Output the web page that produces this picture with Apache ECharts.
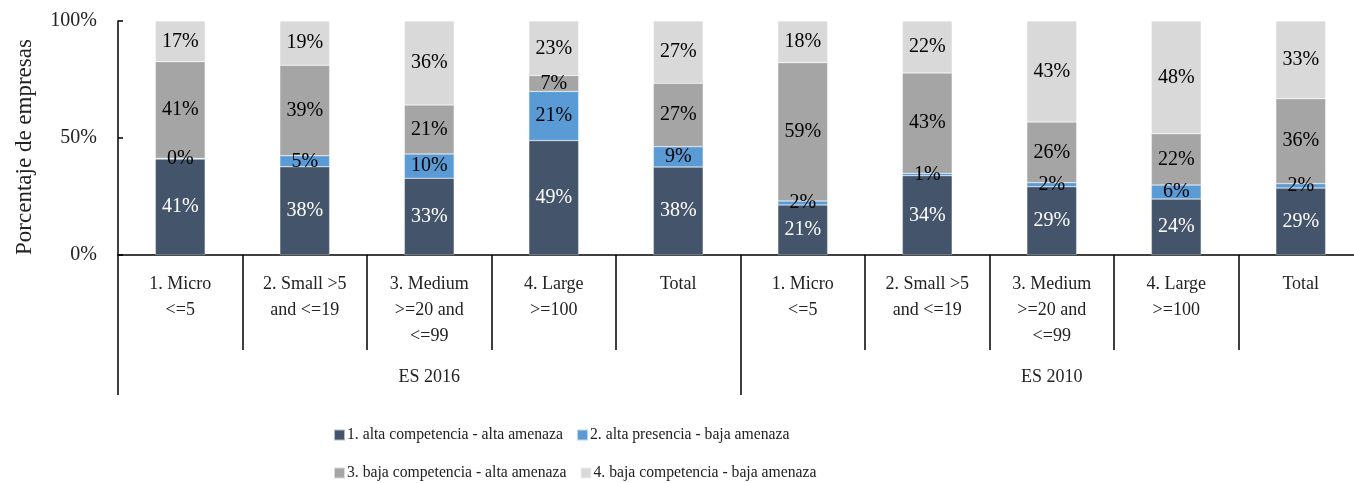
<!DOCTYPE html>
<html>
<head>
  <meta charset="UTF-8">
  <title>Porcentaje de empresas</title>
  <style>
    html, body { margin: 0; padding: 0; background: #fff; }
    #chart { width: 1354px; height: 483px; }
  </style>
  <script type="text/javascript" src="https://cdn.jsdelivr.net/npm/echarts@6/dist/echarts.min.js"></script>
</head>
<body>
  <div id="chart"></div>
  <script>
    var categories = [
      '1. Micro\n<=5', '2. Small >5\nand <=19', '3. Medium\n>=20 and\n<=99', '4. Large\n>=100', 'Total',
      '1. Micro\n<=5', '2. Small >5\nand <=19', '3. Medium\n>=20 and\n<=99', '4. Large\n>=100', 'Total'
    ];
    var groups = ['ES 2016', 'ES 2010'];
    var yTicks = [0, 50, 100];

    // valores estimados (%), la etiqueta se redondea
    var altaCompAltaAmen = [41.0, 37.7, 32.8, 48.9, 37.6, 21.4, 33.9, 29.2, 23.9, 28.6];
    var altaPresBajaAmen = [0.3, 4.7, 10.4, 21.0, 8.7, 1.7, 1.0, 1.7, 6.0, 1.9];
    var bajaCompAltaAmen = [41.3, 38.7, 20.9, 6.8, 27.1, 59.1, 42.9, 25.9, 21.9, 36.3];
    var bajaCompBajaAmen = [17.4, 18.9, 35.9, 23.3, 26.6, 17.8, 22.2, 43.2, 48.2, 33.2];

    var seriesNames = [
      '1. alta competencia - alta amenaza',
      '2. alta presencia - baja amenaza',
      '3. baja competencia - alta amenaza',
      '4. baja competencia - baja amenaza'
    ];
    var colors = ['#44546A', '#5B9BD5', '#A5A5A5', '#D9D9D9'];
    var labelColors = ['#fff', '#000', '#000', '#000'];
    var seriesData = [altaCompAltaAmen, altaPresBajaAmen, bajaCompAltaAmen, bajaCompBajaAmen];

    var font = 'Liberation Serif';
    var myChart = echarts.init(document.getElementById('chart'));

    var series = [];
    for (var i = 0; i < seriesData.length; i++) {
      series.push({
        name: seriesNames[i],
        type: 'bar',
        stack: 'total',
        xAxisIndex: 0,
        barWidth: '40%',
        data: seriesData[i],
        itemStyle: { color: colors[i], borderColor: 'rgba(255,255,255,0.6)', borderWidth: 0.5 },
        label: {
          show: true,
          position: 'inside',
          fontFamily: font,
          fontSize: 20,
          color: labelColors[i],
          formatter: function (p) { return Math.round(p.value) + '%'; }
        }
      });
    }

    var option = {
      backgroundColor: '#fff',
      animation: false,
      textStyle: { fontFamily: font },
      grid: { left: 118, top: 21, width: 1245, height: 234, containLabel: false, outerBoundsMode: 'none' },
      legend: [
        {
          data: seriesNames.slice(0, 2),
          left: 328, top: 422,
          icon: 'rect', itemWidth: 11, itemHeight: 11, itemGap: 13,
          textStyle: { fontFamily: font, fontSize: 15.7, color: '#222', padding: [0, 0, 0, -3] }
        },
        {
          data: seriesNames.slice(2, 4),
          left: 328, top: 460,
          icon: 'rect', itemWidth: 11, itemHeight: 11, itemGap: 13,
          textStyle: { fontFamily: font, fontSize: 15.7, color: '#222', padding: [0, 0, 0, -3] }
        }
      ],
      xAxis: [
        {
          type: 'category',
          data: categories,
          position: 'bottom',
          axisLine: { show: true, lineStyle: { color: '#000', width: 1.5 } },
          axisTick: { show: true, length: 95, lineStyle: { color: '#000', width: 1.5 } },
          axisLabel: {
            interval: 0,
            margin: 16,
            fontFamily: font,
            fontSize: 18,
            lineHeight: 26,
            color: '#222'
          }
        },
        {
          type: 'category',
          data: groups,
          position: 'bottom',
          axisLine: { show: false },
          axisTick: { show: true, length: 140, lineStyle: { color: '#000', width: 1.5 } },
          axisLabel: {
            interval: 0,
            margin: 113,
            fontFamily: font,
            fontSize: 18,
            color: '#222'
          }
        }
      ],
      yAxis: {
        type: 'value',
        min: yTicks[0],
        max: yTicks[yTicks.length - 1],
        interval: yTicks[1] - yTicks[0],
        name: 'Porcentaje de empresas',
        nameLocation: 'middle',
        nameGap: 82,
        nameTextStyle: { fontFamily: font, fontSize: 23, color: '#222', padding: [0, 18, 0, 0] },
        axisLine: { show: true, lineStyle: { color: '#000', width: 1.5 } },
        axisTick: { show: true, inside: true, length: 5, lineStyle: { color: '#000', width: 1.5 } },
        splitLine: { show: false },
        axisLabel: {
          margin: 21,
          fontFamily: font,
          fontSize: 20,
          color: '#222',
          formatter: '{value}%'
        }
      },
      series: series
    };

    myChart.setOption(option);
  </script>
</body>
</html>
